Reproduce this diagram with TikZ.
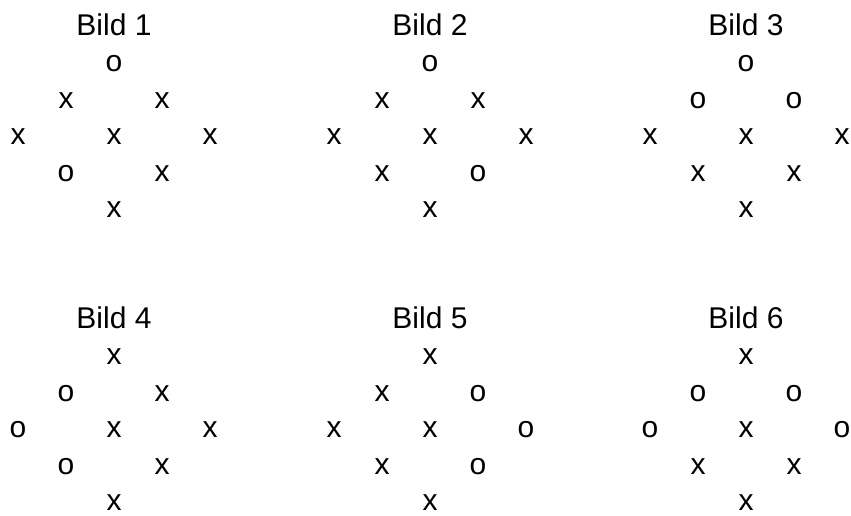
\documentclass[tikz,border=0pt]{standalone}
\usepackage{fontspec}
\setmainfont{Liberation Sans}
\usepackage{tikz}
\begin{document}
\begin{tikzpicture}[
  x={(1pt,0)}, y={(0,-1pt)},
  titel/.style={anchor=base,inner sep=0pt,font=\fontsize{30}{36}\selectfont},
  zeichen/.style={anchor=center,inner sep=0pt,font=\fontsize{30}{36}\selectfont}
]
  \useasboundingbox (0,0) rectangle (851,515);
  % Bild-Nummer / Mitte x / Mitte y / Zeichen (oben, links nach rechts, unten)
  \foreach \n/\cx/\cy/\marks in {
      1/114/137/{o,x,x,x,x,x,o,x,x},
      2/430/137/{o,x,x,x,x,x,x,o,x},
      3/746/137/{o,o,o,x,x,x,x,x,x},
      4/114/430/{x,o,x,o,x,x,o,x,x},
      5/430/430/{x,x,o,x,x,o,x,o,x},
      6/746/430/{x,o,o,o,x,o,x,x,x}}{
    \node[titel] (t\n) at (\cx,\cy-102) {Bild \n};
    \foreach \m [count=\i from 0] in \marks {
      \pgfmathsetmacro\dx{{0,-1,1,-2,0,2,-1,1,0}[\i]}
      \pgfmathsetmacro\dy{{-2,-1,-1,0,0,0,1,1,2}[\i]}
      \node[zeichen] (b\n-\i) at (\cx+48*\dx,\cy+36.5*\dy) {\m};
    }
  }
\end{tikzpicture}
\end{document}
